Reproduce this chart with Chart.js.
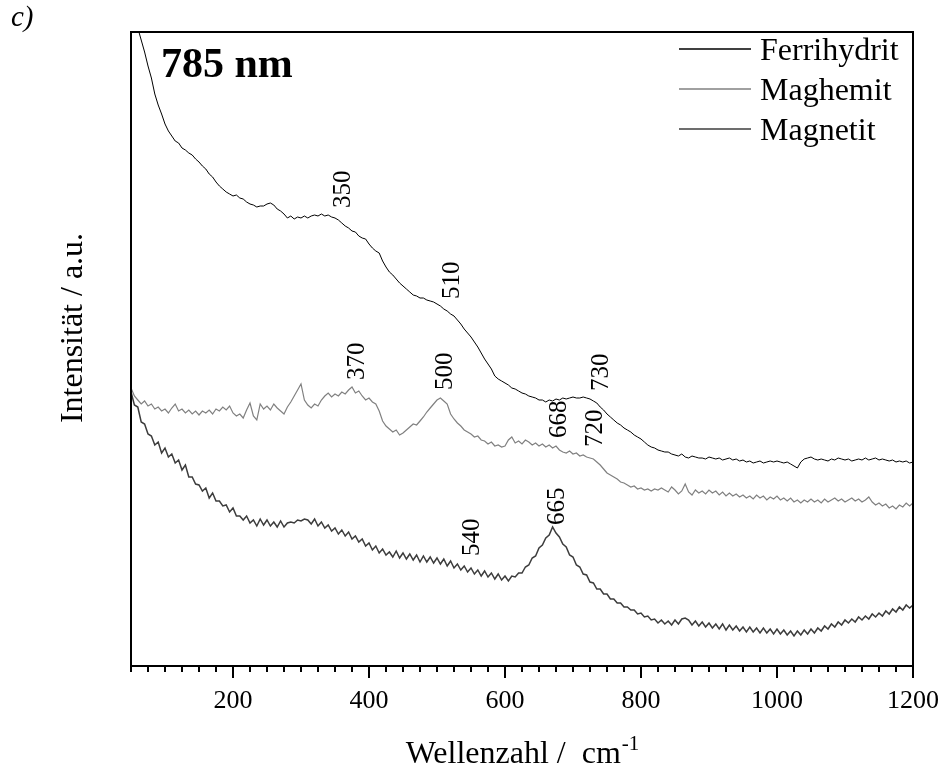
<!DOCTYPE html>
<html>
<head>
<meta charset="utf-8">
<title>Raman 785 nm</title>
<script src="https://cdn.jsdelivr.net/npm/chart.js@4.4.0/dist/chart.umd.min.js"></script>
<style>
  html, body { margin: 0; padding: 0; background: #fff; }
  #wrap { width: 943px; height: 769px; }
</style>
</head>
<body>
<div id="wrap"><canvas id="raman_chart" width="943" height="769"></canvas></div>
<script>
"use strict"

// Raman spectra, 785 nm excitation (intensity in arbitrary units)
var wavenumbers = [
    50, 55, 60, 65, 70, 75, 80, 85, 90, 95,
    100, 105, 110, 115, 120, 125, 130, 135, 140, 145,
    150, 155, 160, 165, 170, 175, 180, 185, 190, 195,
    200, 205, 210, 215, 220, 225, 230, 235, 240, 245,
    250, 255, 260, 265, 270, 275, 280, 285, 290, 295,
    300, 305, 310, 315, 320, 325, 330, 335, 340, 345,
    350, 355, 360, 365, 370, 375, 380, 385, 390, 395,
    400, 405, 410, 415, 420, 425, 430, 435, 440, 445,
    450, 455, 460, 465, 470, 475, 480, 485, 490, 495,
    500, 505, 510, 515, 520, 525, 530, 535, 540, 545,
    550, 555, 560, 565, 570, 575, 580, 585, 590, 595,
    600, 605, 610, 615, 620, 625, 630, 635, 640, 645,
    650, 655, 660, 665, 670, 675, 680, 685, 690, 695,
    700, 705, 710, 715, 720, 725, 730, 735, 740, 745,
    750, 755, 760, 765, 770, 775, 780, 785, 790, 795,
    800, 805, 810, 815, 820, 825, 830, 835, 840, 845,
    850, 855, 860, 865, 870, 875, 880, 885, 890, 895,
    900, 905, 910, 915, 920, 925, 930, 935, 940, 945,
    950, 955, 960, 965, 970, 975, 980, 985, 990, 995,
    1000, 1005, 1010, 1015, 1020, 1025, 1030, 1035, 1040, 1045,
    1050, 1055, 1060, 1065, 1070, 1075, 1080, 1085, 1090, 1095,
    1100, 1105, 1110, 1115, 1120, 1125, 1130, 1135, 1140, 1145,
    1150, 1155, 1160, 1165, 1170, 1175, 1180, 1185, 1190, 1195,
    1200
];

var ferrihydrit = [
    662, 650, 638, 626, 614, 600, 588, 572, 561, 552,
    542, 535, 530, 525, 523, 518, 516, 513, 511, 507,
    504, 500, 497, 492, 489, 484, 480, 477, 474, 472,
    470, 471, 468, 467, 464, 462, 461, 459, 460, 460,
    462, 463, 461, 457, 455, 452, 448, 450, 447, 449,
    448, 450, 448, 450, 451, 450, 452, 450, 451, 449,
    448, 446, 443, 440, 438, 435, 434, 430, 428, 427,
    422, 418, 415, 413, 405, 399, 394, 391, 387, 383,
    380, 377, 374, 371, 370, 368, 368, 366, 365, 364,
    362, 360, 357, 355, 352, 350, 346, 342, 337, 333,
    329, 324, 319, 313, 307, 302, 297, 290, 287, 285,
    283, 281, 278, 277, 275, 273, 272, 270, 269, 268,
    266, 266, 264, 266, 265, 267, 266, 268, 267, 268,
    269, 268, 268, 269, 268, 267, 265, 263, 259, 256,
    252, 249, 246, 243, 241, 238, 236, 234, 231, 229,
    227, 224, 221, 219, 218, 216, 215, 214, 214, 212,
    211, 210, 212, 209, 208, 210, 209, 208, 208, 207,
    209, 208, 207, 208, 206, 207, 208, 206, 207, 205,
    206, 204, 205, 203, 204, 205, 203, 204, 205, 204,
    205, 204, 203, 204, 202, 200, 198, 204, 207, 208,
    209, 207, 206, 207, 206, 205, 207, 206, 208, 207,
    206, 207, 205, 206, 207, 206, 208, 206, 207, 208,
    206, 207, 206, 205, 206, 204, 205, 204, 205, 203,
    204
];

var maghemit = [
    278, 270, 266, 262, 265, 260, 262, 257, 259, 255,
    257, 253, 258, 262, 255, 257, 253, 256, 252, 255,
    251, 255, 253, 256, 252, 257, 255, 259, 256, 260,
    253, 250, 252, 248, 256, 263, 250, 246, 262, 257,
    260, 256, 262, 258, 255, 252, 259, 264, 270, 276,
    282, 266, 261, 258, 262, 260, 266, 270, 273, 269,
    272, 270, 274, 272, 276, 279, 273, 275, 270, 266,
    268, 264, 262, 255, 245, 240, 237, 234, 236, 231,
    233, 236, 239, 242, 241, 245, 249, 254, 258, 262,
    266, 268, 265, 262, 252, 247, 243, 240, 236, 234,
    232, 229, 230, 226, 225, 222, 224, 220, 221, 219,
    220, 226, 229, 223, 225, 222, 226, 224, 221, 223,
    220, 222, 219, 221, 218, 220, 216, 214, 213, 215,
    212, 213, 210, 211, 209, 208, 207, 204, 201, 197,
    193, 191, 189, 187, 184, 183, 181, 179, 180, 177,
    178, 176, 177, 175, 177, 176, 178, 176, 174, 179,
    176, 172, 175, 182, 174, 171, 176, 173, 175, 172,
    176, 173, 175, 171, 174, 170, 173, 170, 172, 169,
    171, 168, 170, 167, 171, 168, 170, 166, 169, 167,
    170, 166, 168, 165, 168, 164, 166, 163, 166, 164,
    167, 164, 166, 163, 167, 164, 166, 168, 165, 167,
    164, 166, 168, 165, 167, 164, 166, 169, 164, 161,
    163, 160, 162, 158, 160, 157, 161, 159, 163, 160,
    163
];

var magnetit = [
    274, 261, 259, 244, 242, 232, 230, 221, 224, 213,
    218, 209, 212, 203, 206, 196, 201, 189, 189, 182,
    181, 175, 178, 168, 173, 165, 165, 160, 161, 154,
    158, 150, 150, 146, 150, 143, 146, 140, 147, 141,
    146, 140, 144, 139, 145, 139, 143, 144, 143, 146,
    145, 147, 146, 142, 147, 140, 144, 138, 141, 135,
    138, 132, 136, 130, 134, 127, 130, 124, 127, 120,
    123, 116, 120, 113, 117, 111, 114, 109, 115, 108,
    113, 107, 112, 106, 111, 104, 110, 104, 109, 103,
    108, 102, 107, 100, 105, 98, 102, 96, 100, 94,
    98, 92, 96, 90, 95, 89, 93, 87, 92, 86,
    90, 85, 90, 89, 93, 93, 99, 101, 108, 110,
    118, 121, 128, 131, 139, 133, 129, 122, 119, 111,
    109, 101, 99, 92, 91, 84, 83, 77, 77, 72,
    72, 67, 67, 63, 63, 59, 59, 56, 56, 52,
    53, 49, 50, 46, 47, 43, 46, 42, 45, 41,
    46, 42, 47, 48, 46, 41, 45, 40, 44, 39,
    43, 38, 42, 37, 42, 36, 41, 36, 40, 35,
    39, 34, 39, 34, 38, 33, 38, 33, 37, 32,
    37, 32, 36, 31, 35, 30, 35, 31, 36, 32,
    37, 33, 38, 35, 40, 37, 42, 39, 44, 41,
    46, 43, 47, 44, 49, 46, 50, 47, 52, 49,
    53, 50, 55, 52, 57, 54, 59, 56, 61, 58,
    61
];

var xTicks = [200, 400, 600, 800, 1000, 1200];

// band positions written above each spectrum
var ferrihydritBands = [350, 510, 730];
var maghemitBands = [370, 500, 668, 720];
var magnetitBands = [540, 665];

var serif = "'Liberation Serif', 'Times New Roman', serif";

function toPoints(values) {
    return wavenumbers.map(function(w, i) { return {x: w, y: values[i]}; });
}

// intensity of a spectrum at the grid point nearest to a wavenumber
function valueAt(values, w) {
    var best = 0;
    for (var i = 1; i < wavenumbers.length; i++) {
        if (Math.abs(wavenumbers[i] - w) < Math.abs(wavenumbers[best] - w)) best = i;
    }
    return values[best];
}

var framePlugin = {
    id: 'frame',
    afterDatasetsDraw: function(chart) {
        var ctx = chart.ctx;
        var area = chart.chartArea;
        var xs = chart.scales.x;
        var ys = chart.scales.y;
        ctx.save();

        // box around the plot
        ctx.strokeStyle = '#000';
        ctx.lineWidth = 2;
        ctx.strokeRect(area.left, area.top, area.right - area.left, area.bottom - area.top);

        // outward ticks: long ones on labelled values, short ones every 25 cm-1
        ctx.beginPath();
        for (var v = xs.min; v <= xs.max; v += 25) {
            var px = Math.round(xs.getPixelForValue(v));
            var len = xTicks.indexOf(v) >= 0 ? 12 : 6;
            ctx.moveTo(px, area.bottom);
            ctx.lineTo(px, area.bottom + len);
        }
        ctx.stroke();

        ctx.fillStyle = '#000';
        ctx.font = '26px ' + serif;
        ctx.textAlign = 'center';
        ctx.textBaseline = 'alphabetic';
        xTicks.forEach(function(t) {
            ctx.fillText(String(t), xs.getPixelForValue(t), area.bottom + 42);
        });

        // x title with superscript unit
        var main = 'Wellenzahl /  cm';
        var sup = '-1';
        ctx.font = '32px ' + serif;
        var w1 = ctx.measureText(main).width;
        ctx.font = '21px ' + serif;
        var w2 = ctx.measureText(sup).width;
        var startX = (area.left + area.right) / 2 - (w1 + w2) / 2;
        ctx.textAlign = 'left';
        ctx.font = '32px ' + serif;
        ctx.fillText(main, startX, 763);
        ctx.font = '21px ' + serif;
        ctx.fillText(sup, startX + w1 + 1, 750);

        // y title
        ctx.save();
        ctx.translate(82, 328);
        ctx.rotate(-Math.PI / 2);
        ctx.textAlign = 'center';
        ctx.font = '32px ' + serif;
        ctx.fillText('Intensität / a.u.', 0, 0);
        ctx.restore();

        // band labels, rotated, just above each curve
        ctx.font = '25px ' + serif;
        var groups = [[ferrihydrit, ferrihydritBands], [maghemit, maghemitBands], [magnetit, magnetitBands]];
        groups.forEach(function(g) {
            g[1].forEach(function(b) {
                var bx = xs.getPixelForValue(b) + 15;
                var by = ys.getPixelForValue(valueAt(g[0], b)) - 10;
                ctx.save();
                ctx.translate(bx, by);
                ctx.rotate(-Math.PI / 2);
                ctx.textAlign = 'left';
                ctx.fillText(String(b), 0, 0);
                ctx.restore();
            });
        });

        // excitation wavelength
        ctx.font = 'bold 42px ' + serif;
        ctx.textAlign = 'left';
        ctx.fillText('785 nm', 161, 77);

        // panel letter
        ctx.font = 'italic 29px ' + serif;
        ctx.fillText('c)', 11, 26);

        // legend
        ctx.font = '32px ' + serif;
        chart.data.datasets.forEach(function(ds, i) {
            var ly = 49 + i * 40;
            ctx.strokeStyle = ds.borderColor;
            ctx.lineWidth = 1.5;
            ctx.beginPath();
            ctx.moveTo(679, ly);
            ctx.lineTo(751, ly);
            ctx.stroke();
            ctx.fillStyle = '#000';
            ctx.fillText(ds.label, 760, ly + 11);
        });

        ctx.restore();
    }
};

var ramanChart = new Chart(document.getElementById('raman_chart'), {
    type: 'line',
    data: {
        datasets: [
            {
                label: 'Ferrihydrit',
                data: toPoints(ferrihydrit),
                borderColor: '#000000',
                borderWidth: 1
            },
            {
                label: 'Maghemit',
                data: toPoints(maghemit),
                borderColor: '#808080',
                borderWidth: 1.2
            },
            {
                label: 'Magnetit',
                data: toPoints(magnetit),
                borderColor: '#3c3c3c',
                borderWidth: 1.5
            }
        ]
    },
    options: {
        responsive: false,
        animation: false,
        layout: { padding: { left: 131, right: 30, top: 32, bottom: 103 } },
        elements: {
            point: { radius: 0 },
            line: { tension: 0 }
        },
        plugins: {
            legend: { display: false },
            tooltip: { enabled: false }
        },
        scales: {
            x: { type: 'linear', min: 50, max: 1200, display: false },
            y: { min: 0, max: 634, display: false }
        }
    },
    plugins: [framePlugin]
});
</script>
</body>
</html>
